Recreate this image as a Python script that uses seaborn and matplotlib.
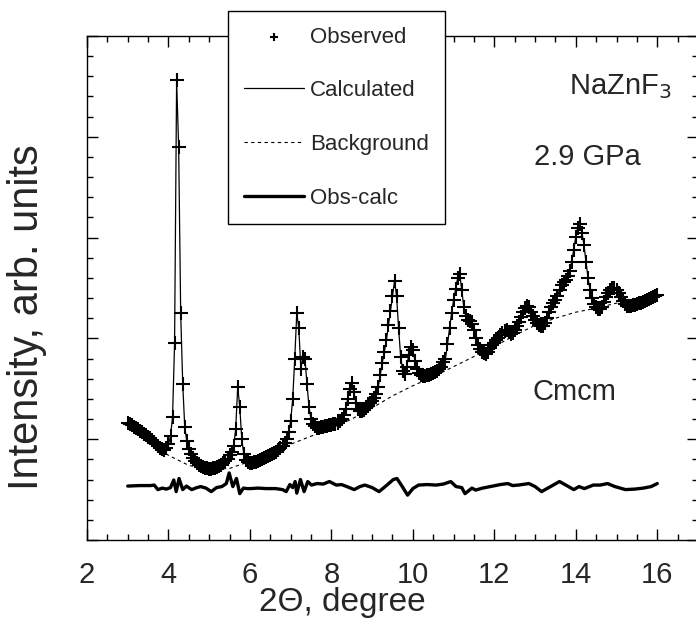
import numpy as np
import pandas as pd
import matplotlib
matplotlib.use("Agg")
import matplotlib.pyplot as plt
import seaborn as sns
from matplotlib.ticker import MultipleLocator

# Escaneo 2-theta: inicio y paso del difractograma
scan_start = 3.0
scan_step = 0.05

# Intensidad observada (una fila por grado, 3.00 ... 15.95, luego 16.00)
observed = [
    1.16, 1.15, 1.14, 1.12, 1.11, 1.10, 1.08, 1.07, 1.05, 1.04, 1.02, 1.01, 0.99, 0.97, 0.95, 0.93, 0.91, 0.90, 0.89, 0.91,
    0.95, 1.03, 1.22, 1.95, 4.56, 3.90, 2.25, 1.55, 1.12, 0.98, 0.90, 0.85, 0.81, 0.78, 0.76, 0.74, 0.73, 0.72, 0.71, 0.71,
    0.70, 0.70, 0.71, 0.71, 0.72, 0.73, 0.74, 0.76, 0.78, 0.80, 0.84, 0.87, 0.93, 1.10, 1.52, 1.32, 1.00, 0.85, 0.79, 0.77,
    0.76, 0.76, 0.77, 0.77, 0.78, 0.79, 0.80, 0.81, 0.82, 0.83, 0.84, 0.85, 0.86, 0.87, 0.89, 0.91, 0.93, 0.96, 1.00, 1.07,
    1.18, 1.40, 1.80, 2.25, 2.10, 1.70, 1.82, 1.80, 1.55, 1.32, 1.20, 1.15, 1.13, 1.11, 1.11, 1.12, 1.12, 1.13, 1.13, 1.14,
    1.14, 1.15, 1.15, 1.16, 1.18, 1.20, 1.24, 1.30, 1.40, 1.50, 1.56, 1.47, 1.36, 1.30, 1.28, 1.28, 1.29, 1.31, 1.33, 1.36,
    1.38, 1.41, 1.45, 1.52, 1.64, 1.76, 1.87, 1.98, 2.13, 2.27, 2.42, 2.57, 2.42, 2.10, 1.82, 1.68, 1.65, 1.72, 1.84, 1.91,
    1.88, 1.78, 1.70, 1.66, 1.64, 1.63, 1.63, 1.64, 1.64, 1.65, 1.66, 1.67, 1.68, 1.70, 1.72, 1.77, 1.80, 1.94, 2.10, 2.25,
    2.38, 2.49, 2.60, 2.64, 2.48, 2.31, 2.22, 2.18, 2.17, 2.14, 2.08, 2.00, 1.93, 1.89, 1.87, 1.86, 1.85, 1.87, 1.90, 1.93,
    1.95, 1.98, 2.00, 2.03, 2.05, 2.07, 2.08, 2.06, 2.04, 2.05, 2.08, 2.12, 2.16, 2.21, 2.26, 2.30, 2.32, 2.31, 2.26, 2.22,
    2.18, 2.15, 2.13, 2.12, 2.12, 2.15, 2.20, 2.26, 2.31, 2.35, 2.38, 2.42, 2.48, 2.53, 2.56, 2.58, 2.62, 2.67, 2.76, 2.88,
    3.01, 3.10, 3.13, 3.05, 2.93, 2.76, 2.60, 2.48, 2.40, 2.34, 2.31, 2.29, 2.29, 2.31, 2.36, 2.41, 2.45, 2.48, 2.50, 2.50,
    2.48, 2.45, 2.41, 2.37, 2.34, 2.32, 2.32, 2.32, 2.33, 2.33, 2.34, 2.35, 2.35, 2.36, 2.37, 2.38, 2.39, 2.40, 2.41, 2.42,
    2.43,
]
# El perfil calculado coincide con el observado a la escala del dibujo
calculated = observed

# Fondo (línea discontinua)
bg_theta = [3.0, 3.5, 4.0, 4.5, 5.0, 5.5, 6.0, 6.5, 7.0, 7.5, 8.0, 8.5, 9.0, 9.5,
            10.0, 10.5, 11.0, 11.5, 12.0, 12.5, 13.0, 13.5, 14.0, 14.5, 15.0, 15.5, 16.0]
bg_value = [1.12, 0.98, 0.84, 0.74, 0.70, 0.71, 0.78, 0.87, 0.95, 1.03, 1.11, 1.20, 1.31, 1.43,
            1.53, 1.62, 1.72, 1.82, 1.92, 2.03, 2.13, 2.20, 2.26, 2.30, 2.35, 2.38, 2.41]

# Diferencia obs-calc (desplazada)
diff_theta = [
    3.00, 3.30, 3.56, 3.65, 3.74, 3.85, 3.95, 4.05, 4.13, 4.19,
    4.26, 4.35, 4.44, 4.57, 4.70, 4.79, 4.92, 5.05, 5.18, 5.31,
    5.42, 5.49, 5.58, 5.67, 5.75, 5.84, 5.93, 6.02, 6.20, 6.40,
    6.63, 6.80, 6.89, 6.98, 7.05, 7.11, 7.15, 7.24, 7.33, 7.42,
    7.51, 7.65, 7.80, 7.95, 8.12, 8.25, 8.38, 8.56, 8.70, 8.82,
    9.00, 9.17, 9.35, 9.52, 9.61, 9.74, 9.87, 10.00, 10.14, 10.35,
    10.57, 10.75, 10.93, 11.06, 11.20, 11.28, 11.45, 11.54, 11.71, 11.90,
    12.15, 12.33, 12.45, 12.59, 12.85, 13.00, 13.16, 13.38, 13.60, 13.82,
    13.95, 14.08, 14.21, 14.43, 14.60, 14.78, 14.96, 15.22, 15.45, 15.66,
    15.85, 16.00,
]
diff_value = [
    0.535, 0.540, 0.540, 0.545, 0.500, 0.515, 0.505, 0.520, 0.595, 0.480,
    0.610, 0.500, 0.535, 0.500, 0.520, 0.530, 0.515, 0.480, 0.520, 0.530,
    0.560, 0.665, 0.530, 0.610, 0.460, 0.515, 0.510, 0.510, 0.515, 0.510,
    0.510, 0.500, 0.480, 0.550, 0.520, 0.580, 0.465, 0.600, 0.480, 0.580,
    0.545, 0.560, 0.555, 0.580, 0.545, 0.550, 0.530, 0.500, 0.530, 0.545,
    0.520, 0.480, 0.540, 0.600, 0.610, 0.530, 0.445, 0.510, 0.545, 0.550,
    0.545, 0.555, 0.580, 0.530, 0.520, 0.460, 0.515, 0.495, 0.515, 0.530,
    0.550, 0.560, 0.540, 0.545, 0.560, 0.530, 0.480, 0.530, 0.580, 0.530,
    0.500, 0.530, 0.510, 0.545, 0.545, 0.560, 0.530, 0.500, 0.505, 0.515,
    0.530, 0.560,
]

two_theta = np.round(scan_start + scan_step * np.arange(len(observed)), 2)
df = pd.DataFrame({"theta": two_theta, "obs": observed, "calc": calculated})
df_bg = pd.DataFrame({"theta": bg_theta, "bg": bg_value})
df_diff = pd.DataFrame({"theta": diff_theta, "diff": diff_value})

sns.set_style("ticks")
plt.rcParams["font.family"] = ["Liberation Sans", "DejaVu Sans"]

W, H = 696, 628
fig = plt.figure(figsize=(W / 100, H / 100), dpi=100)
ax = fig.add_axes([87 / W, 1 - 540 / H, (698 - 87) / W, (540 - 36) / H])

sns.scatterplot(data=df, x="theta", y="obs", marker="+", s=95, color="black",
                linewidth=1.5, ax=ax, label="Observed", zorder=2)
sns.lineplot(data=df, x="theta", y="calc", color="black", linewidth=0.9,
             ax=ax, label="Calculated", zorder=3)
sns.lineplot(data=df_bg, x="theta", y="bg", color="black", linewidth=0.8,
             linestyle=(0, (3, 3)), ax=ax, label="Background", zorder=3)
sns.lineplot(data=df_diff, x="theta", y="diff", color="black", linewidth=2.4,
             ax=ax, label="Obs-calc", zorder=3)

ax.set_xlim(2, 17)
ax.set_ylim(0, 5)
ax.xaxis.set_major_locator(MultipleLocator(2))
ax.xaxis.set_minor_locator(MultipleLocator(0.5))
ax.yaxis.set_major_locator(MultipleLocator(1))
ax.yaxis.set_minor_locator(MultipleLocator(0.2))
ax.tick_params(which="both", direction="in", top=True, right=True, color="black", width=1)
ax.tick_params(which="major", length=8)
ax.tick_params(which="minor", length=4.3)
ax.tick_params(axis="x", labelsize=21, pad=15)
ax.tick_params(axis="y", labelleft=False)
for sp in ax.spines.values():
    sp.set_linewidth(1)
    sp.set_color("black")

ax.set_xlabel("2\u0398, degree", fontsize=24)
ax.set_ylabel("Intensity, arb. units", fontsize=30)
ax.xaxis.set_label_coords((342 - 87) / 611, (540 - 587) / 504)
ax.yaxis.set_label_coords((47 - 87) / 611, (540 - 317) / 504)

ax.text(15.1, 4.42, "NaZnF$_3$", fontsize=21, ha="center", va="baseline")
ax.text(14.28, 3.72, "2.9 GPa", fontsize=21, ha="center", va="baseline")
ax.text(13.97, 1.39, "Cmcm", fontsize=21, ha="center", va="baseline")

handles, labels = ax.get_legend_handles_labels()
order = ["Observed", "Calculated", "Background", "Obs-calc"]
hmap = dict(zip(labels, handles))
leg = ax.legend([hmap[k] for k in order], order, loc="upper left",
                bbox_to_anchor=(228 / W, 1 - 11 / H), bbox_transform=fig.transFigure,
                fontsize=16, frameon=True, fancybox=False, framealpha=1,
                edgecolor="black", borderaxespad=0, borderpad=0.7,
                handlelength=2.7, handletextpad=0.3, labelspacing=1.47,
                markerscale=0.65)
leg.get_frame().set_linewidth(1)

fig.savefig("out.png", dpi=100)
